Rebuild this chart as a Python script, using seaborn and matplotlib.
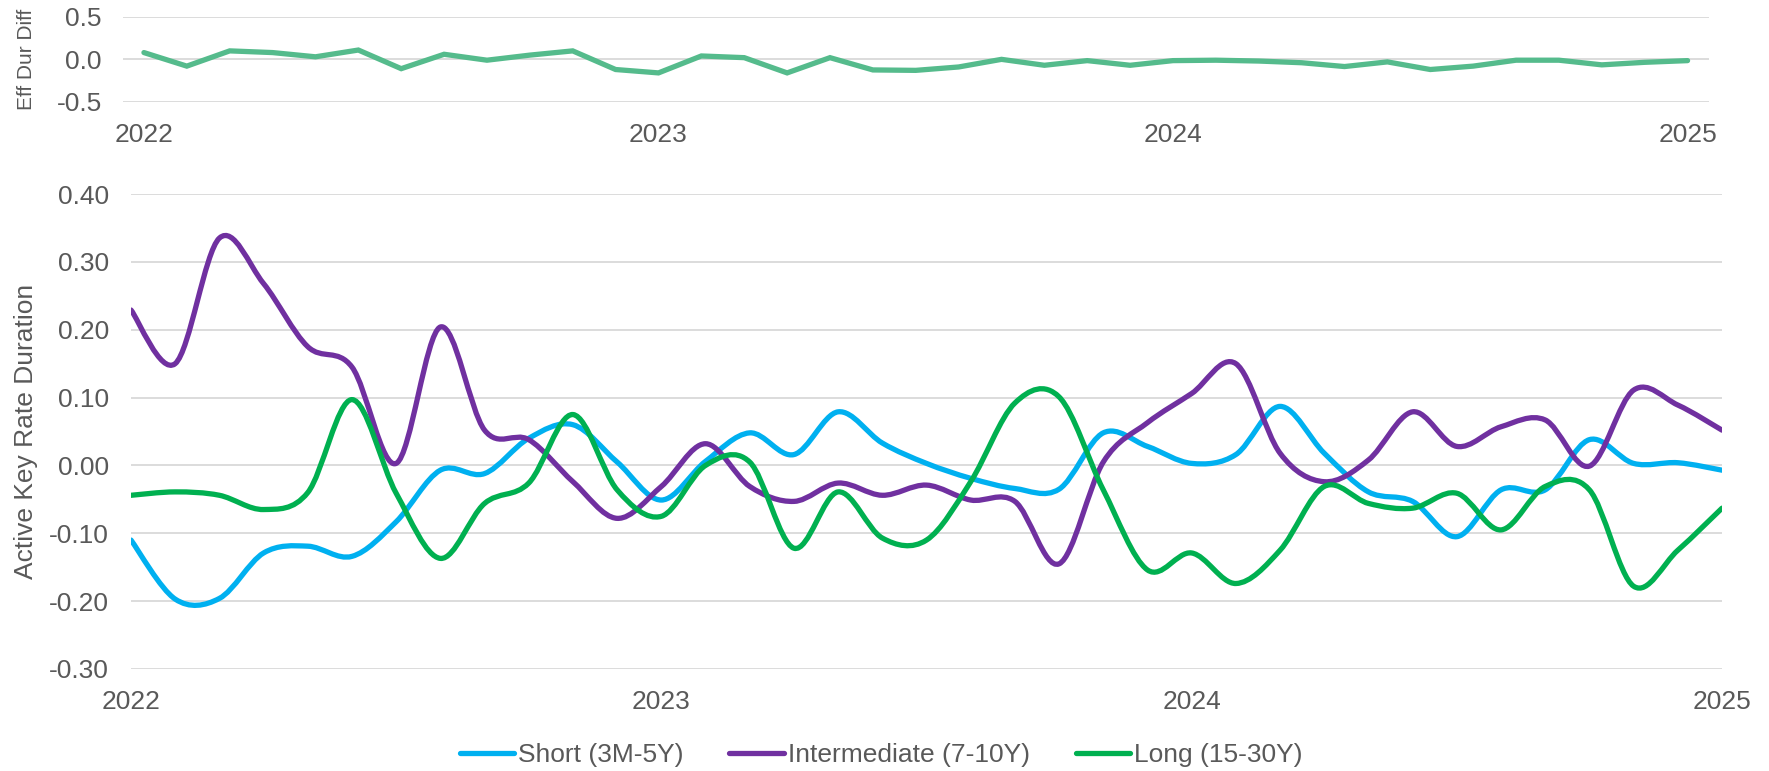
import numpy as np
import pandas as pd
import matplotlib
matplotlib.use("Agg")
import matplotlib.pyplot as plt
import seaborn as sns
from matplotlib.path import Path
from matplotlib.patches import PathPatch
from matplotlib.lines import Line2D

# ---------------- data (monthly, Jan 2022 .. Jan 2025) ----------------
year_labels = ["2022", "2023", "2024", "2025"]

eff_dur_diff = [0.08, -0.08, 0.10, 0.08, 0.03, 0.11, -0.11, 0.06, -0.01, 0.05,
                0.10, -0.12, -0.16, 0.04, 0.02, -0.16, 0.02, -0.125, -0.13, -0.09,
                0.00, -0.07, -0.015, -0.07, -0.015, -0.01, -0.02, -0.04, -0.085, -0.03,
                -0.12, -0.08, -0.01, -0.01, -0.065, -0.035, -0.015]

short_krd = [-0.110, -0.197, -0.196, -0.129, -0.119, -0.134, -0.083, -0.007, -0.012, 0.040,
             0.060, 0.005, -0.051, 0.006, 0.048, 0.016, 0.079, 0.033, 0.003, -0.019,
             -0.034, -0.035, 0.048, 0.028, 0.003, 0.016, 0.087, 0.018, -0.039, -0.053,
             -0.105, -0.036, -0.036, 0.038, 0.003, 0.004, -0.007]

intermediate_krd = [0.229, 0.150, 0.335, 0.268, 0.175, 0.145, 0.003, 0.204, 0.052, 0.038,
                    -0.024, -0.078, -0.031, 0.032, -0.031, -0.053, -0.026, -0.044, -0.029, -0.051,
                    -0.053, -0.145, 0.005, 0.063, 0.106, 0.150, 0.018, -0.024, 0.008, 0.079,
                    0.028, 0.057, 0.067, -0.001, 0.111, 0.089, 0.052]

long_krd = [-0.044, -0.039, -0.044, -0.065, -0.040, 0.097, -0.041, -0.137, -0.056, -0.026,
            0.075, -0.036, -0.075, 0.000, 0.005, -0.122, -0.039, -0.107, -0.110, -0.024,
            0.092, 0.101, -0.036, -0.154, -0.129, -0.174, -0.125, -0.031, -0.056, -0.063,
            -0.041, -0.095, -0.031, -0.036, -0.178, -0.125, -0.063]

series_names = ["Short (3M-5Y)", "Intermediate (7-10Y)", "Long (15-30Y)"]
series_colors = ["#00B0F0", "#7030A0", "#00B050"]
eff_color = "#55BB8C"

# ---------------- style ----------------
sns.set_theme(style="white")
plt.rcParams["font.family"] = ["Liberation Sans", "DejaVu Sans"]
plt.rcParams["axes.unicode_minus"] = False
TXT = "#595959"
GRID = "#D9D9D9"
FS = 19

W, H = 1769, 771
fig = plt.figure(figsize=(W / 100, H / 100), dpi=100)

def fx(px):
    return px / W

def fy(px):
    return 1 - px / H

# ---------------- top panel ----------------
ax1 = fig.add_axes([fx(122.5), fy(101.7), fx(1709) - fx(122.5), fy(17) - fy(101.7)])
month_idx = np.arange(len(eff_dur_diff))
top_df = pd.DataFrame({"m": month_idx, "v": eff_dur_diff})
sns.lineplot(data=top_df, x="m", y="v", ax=ax1, color=eff_color, lw=3.8,
             solid_joinstyle="miter", solid_capstyle="round")
ax1.set_xlim(-0.5, 36.5)
ax1.set_ylim(-0.5, 0.5)
ax1.set_yticks([-0.5, 0.0, 0.5])
ax1.set_yticklabels(["-0.5", "0.0", "0.5"])
ax1.set_xticks([0, 12, 24, 36])
ax1.set_xticklabels(year_labels)
ax1.set_xlabel("")
ax1.set_ylabel("")
for y in [-0.5, 0.0, 0.5]:
    ax1.axhline(y, color=GRID, lw=1.3, zorder=0)
ax1.tick_params(axis="both", length=0, labelsize=FS, colors=TXT)
ax1.tick_params(axis="y", pad=15)
ax1.tick_params(axis="x", pad=15.5)
for s in ax1.spines.values():
    s.set_visible(False)
ax1.set_facecolor("none")
fig.text(fx(26), fy(59.5), "Eff Dur Diff", rotation=90, ha="center", va="center",
         fontsize=15, color=TXT)

# ---------------- bottom panel ----------------
ax2 = fig.add_axes([fx(131), fy(669), fx(1722) - fx(131), fy(194) - fy(669)])
n = len(short_krd)
long_df = pd.DataFrame({
    "m": np.tile(np.arange(n), 3),
    "v": short_krd + intermediate_krd + long_krd,
    "series": np.repeat(series_names, n),
})
sns.lineplot(data=long_df, x="m", y="v", hue="series", hue_order=series_names,
             palette=series_colors, ax=ax2, legend=False, lw=3.8)

# Replace straight segments by Excel-style smoothed Bezier curves through the same points
lines = list(ax2.lines)
for ln, col in zip(lines, series_colors):
    xs, ys = ln.get_xdata(), ln.get_ydata()
    pts = np.column_stack([xs, ys]).astype(float)
    ln.remove()
    verts = [tuple(pts[0])]
    codes = [Path.MOVETO]
    for i in range(len(pts) - 1):
        p0 = pts[i - 1] if i > 0 else pts[i]
        p1 = pts[i]
        p2 = pts[i + 1]
        p3 = pts[i + 2] if i + 2 < len(pts) else pts[i + 1]
        c1 = p1 + (p2 - p0) / 6.0
        c2 = p2 - (p3 - p1) / 6.0
        verts += [tuple(c1), tuple(c2), tuple(p2)]
        codes += [Path.CURVE4] * 3
    patch = PathPatch(Path(verts, codes), fill=False, edgecolor=col, lw=3.8,
                      capstyle="round", joinstyle="round", zorder=3)
    ax2.add_patch(patch)

ax2.set_xlim(0, 36)
ax2.set_ylim(-0.30, 0.40)
yt = [-0.3, -0.2, -0.1, 0.0, 0.1, 0.2, 0.3, 0.4]
ax2.set_yticks(yt)
ax2.set_yticklabels([f"{v:.2f}" for v in yt])
ax2.set_xticks([0, 12, 24, 36])
ax2.set_xticklabels(year_labels)
ax2.set_xlabel("")
ax2.set_ylabel("")
for y in yt:
    ax2.axhline(y, color=GRID, lw=1.3, zorder=0)
ax2.tick_params(axis="both", length=0, labelsize=FS, colors=TXT)
ax2.tick_params(axis="y", pad=16)
ax2.tick_params(axis="x", pad=15)
for s in ax2.spines.values():
    s.set_visible(False)
ax2.set_facecolor("none")
fig.text(fx(26), fy(431.5), "Active Key Rate Duration", rotation=90, ha="center",
         va="center", fontsize=FS, color=TXT)

handles = [Line2D([0], [0], color=c, lw=3.8) for c in series_colors]
fig.legend(handles, series_names, loc="center", bbox_to_anchor=(fx(881), fy(755)),
           ncol=3, frameon=False, fontsize=FS, labelcolor=TXT, handlelength=2.05,
           handletextpad=0.15, columnspacing=1.75)

fig.savefig("out.png", dpi=100, facecolor="white")
